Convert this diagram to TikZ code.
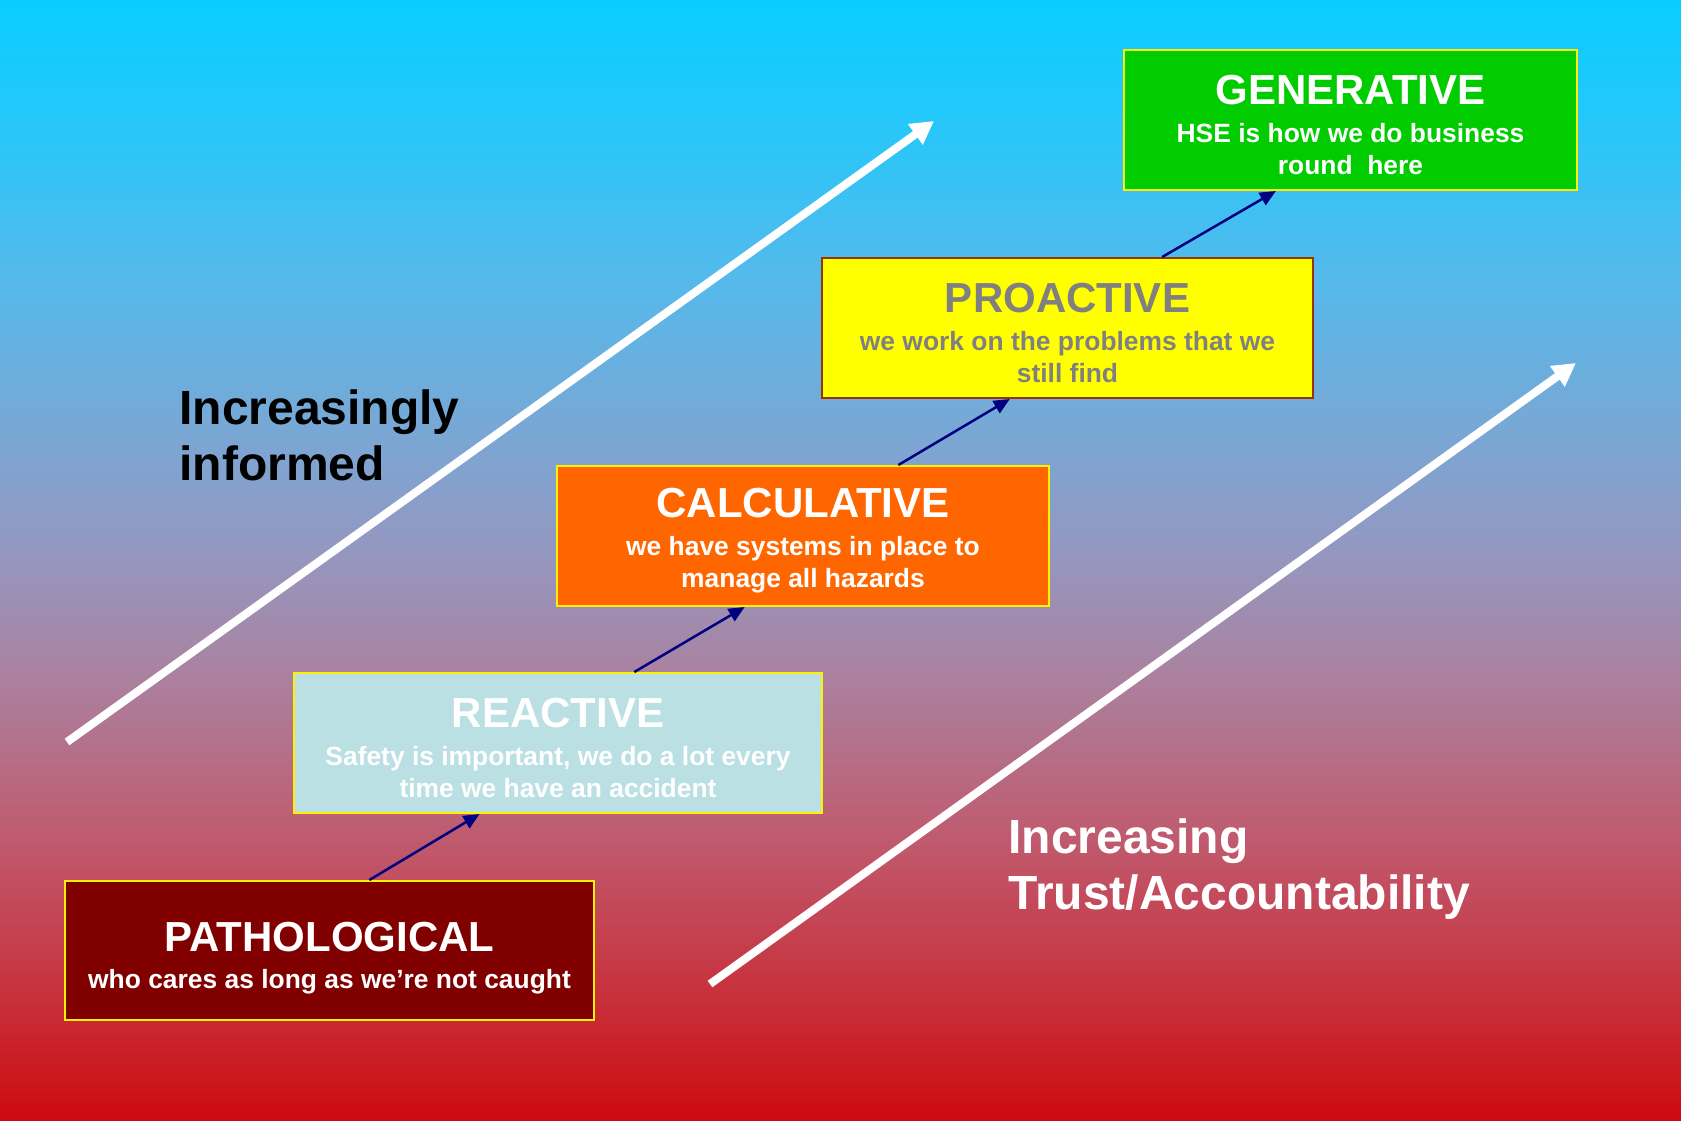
\documentclass[tikz,border=0pt]{standalone}
\usepackage{fontspec}
\setmainfont{Liberation Sans}
\usetikzlibrary{arrows.meta,calc}

% background gradient stops, bottom to top
\definecolor{bgA}{RGB}{205,10,15}
\definecolor{bgB}{RGB}{200,45,55}
\definecolor{bgC}{RGB}{192,90,110}
\definecolor{bgD}{RGB}{170,130,160}
\definecolor{bgE}{RGB}{150,150,190}
\definecolor{bgF}{RGB}{125,165,210}
\definecolor{bgG}{RGB}{85,185,235}
\definecolor{bgH}{RGB}{35,200,250}
\definecolor{bgI}{RGB}{10,205,255}

\definecolor{genfill}{RGB}{0,204,0}
\definecolor{profill}{RGB}{255,255,0}
\definecolor{proedge}{RGB}{153,51,0}
\definecolor{protext}{RGB}{128,128,128}
\definecolor{calfill}{RGB}{255,102,0}
\definecolor{reafill}{RGB}{187,224,227}
\definecolor{patfill}{RGB}{128,0,0}
\definecolor{navy}{RGB}{0,0,128}

\pgfdeclareverticalshading{skyred}{100bp}{
  color(0bp)=(bgA); color(25bp)=(bgA); color(30bp)=(bgB); color(37.5bp)=(bgC);
  color(45bp)=(bgD); color(50bp)=(bgE); color(55bp)=(bgF); color(62.5bp)=(bgG);
  color(70bp)=(bgH); color(75bp)=(bgI); color(100bp)=(bgI)}

\tikzset{
  stage/.style={draw=yellow, line width=1pt, inner sep=0pt, align=center,
    text=white, font=\bfseries\fontsize{13.2}{16}\selectfont},
  link/.style={navy, line width=1.25pt, -{Triangle[length=8pt,width=7pt]}},
  bigarrow/.style={white, line width=4pt, -{Triangle[length=11.5pt,width=12pt]}},
  caption/.style={inner sep=0pt, anchor=north west, align=left,
    font=\bfseries\fontsize{24}{28.25}\selectfont}
}
% stage heading; the strut sets the space above it
\newcommand{\stagetitle}[2][19.5pt]{{\fontsize{21}{21}\selectfont\rule{0pt}{#1}#2}}

\begin{document}
\begin{tikzpicture}[x=0.5pt,y=-0.5pt]
  \useasboundingbox (0,0) rectangle (1681,1120);
  \shade[shading=skyred] (0,0) rectangle (1681,1120);

  % long white trend arrows
  \coordinate (infoStart) at (67,742);
  \coordinate (infoEnd) at (934,121);
  \coordinate (trustStart) at (710,984);
  \coordinate (trustEnd) at (1576,363);
  \draw[bigarrow] (infoStart) -- (infoEnd);
  \draw[bigarrow] (trustStart) -- (trustEnd);

  % side captions
  \node[caption, text=black] (informed) at (179,389) {Increasingly\\informed};
  \node[caption, text=white] (trust) at (1008,818) {Increasing\\Trust/Accountability};

  % the five stages
  \node[stage, fill=genfill, minimum width=226.5pt, minimum height=70pt] (gen) at (1350.5,120)
    {\stagetitle{GENERATIVE}\\[3pt]HSE is how we do business\\round~~here};
  \node[stage, fill=profill, draw=proedge, text=protext, minimum width=245.5pt, minimum height=70pt] (pro) at (1067.5,328)
    {\stagetitle{PROACTIVE}\\[3pt]we work on the problems that we\\still find};
  \node[stage, fill=calfill, minimum width=246pt, minimum height=70pt] (cal) at (803,536)
    {\stagetitle{CALCULATIVE}\\[3pt]we have systems in place to\\manage all hazards};
  \node[stage, fill=reafill, minimum width=264pt, minimum height=70pt] (rea) at (558,743)
    {\stagetitle{REACTIVE}\\[3pt]Safety is important, we do a lot every\\time we have an accident};
  \node[stage, fill=patfill, minimum width=264.5pt, minimum height=69.5pt] (pat) at (329.5,950.5)
    {\stagetitle[22pt]{PATHOLOGICAL}\\[2.5pt]who cares as long as we’re not caught};

  % progression links
  \draw[link] ($(pat.north west)!0.575!(pat.north east)$) -- ($(rea.south west)!0.352!(rea.south east)$);
  \draw[link] ($(rea.north west)!0.644!(rea.north east)$) -- ($(cal.south west)!0.382!(cal.south east)$);
  \draw[link] ($(cal.north west)!0.693!(cal.north east)$) -- ($(pro.south west)!0.383!(pro.south east)$);
  \draw[link] ($(pro.north west)!0.692!(pro.north east)$) -- ($(gen.south west)!0.336!(gen.south east)$);
\end{tikzpicture}
\end{document}
